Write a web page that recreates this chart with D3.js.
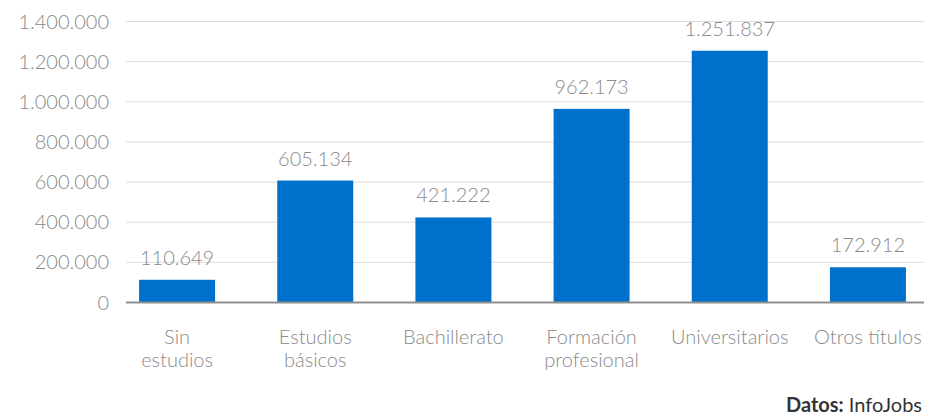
<!DOCTYPE html>
<html><head><meta charset="utf-8">
<script src="https://cdn.jsdelivr.net/npm/d3@7"></script>
<style>
body{margin:0;background:#fff;}
svg{display:block;font-family:Lato,"Open Sans",sans-serif;}
.lt{font-weight:300;}
</style></head><body>
<svg id="c" width="932" height="417"></svg>
<script>
const categories = ["Sin estudios","Estudios básicos","Bachillerato","Formación profesional","Universitarios","Otros títulos"];
const labelLines = [["Sin","estudios"],["Estudios","básicos"],["Bachillerato"],["Formación","profesional"],["Universitarios"],["Otros títulos"]];
const values = [110649, 605134, 421222, 962173, 1251837, 172912];
const yTicks = [0, 200000, 400000, 600000, 800000, 1000000, 1200000, 1400000];
const source = {bold:"Datos:", text:" InfoJobs"};

const svg = d3.select("#c");
const mLeft = 126, mRight = 924, mTop = 21, mBottom = 302;
const loc = d3.formatLocale({decimal:",", thousands:".", grouping:[3], currency:["","€"]});
const fmt = loc.format(",");

const y = d3.scaleLinear().domain([0, 1400000]).range([mBottom, mTop]);
const x = d3.scaleBand().domain(categories).range([108, 937]).paddingInner(0.45).paddingOuter(0.225);

// gridlines
const grid = svg.append("g").attr("transform",`translate(${mLeft},0)`)
  .call(d3.axisLeft(y).tickValues(yTicks).tickSize(-(mRight-mLeft)).tickFormat(""));
grid.select(".domain").remove();
grid.selectAll("line").attr("stroke","#dcdcdc").attr("stroke-width",1);

// y axis labels
const ya = svg.append("g").attr("transform",`translate(${mLeft},0)`)
  .call(d3.axisLeft(y).tickValues(yTicks).tickSize(0).tickPadding(17).tickFormat(fmt));
ya.select(".domain").remove();
ya.attr("font-family",null).attr("font-size",null);
ya.selectAll("text").attr("class","lt").attr("fill","#8a8a8a").style("font-size","20px").attr("dy","0.35em");

// bars
svg.append("g").selectAll("rect").data(values).join("rect")
  .attr("x",(d,i)=>x(categories[i]))
  .attr("width",x.bandwidth())
  .attr("y",d=>y(d))
  .attr("height",d=>mBottom-y(d))
  .attr("fill","#0070cd");

// baseline
svg.append("line").attr("x1",mLeft).attr("x2",mRight).attr("y1",mBottom+0.5).attr("y2",mBottom+0.5)
  .attr("stroke","#8f8f8f").attr("stroke-width",2);

// value labels
svg.append("g").selectAll("text").data(values).join("text")
  .attr("class","lt")
  .attr("x",(d,i)=>x(categories[i])+x.bandwidth()/2)
  .attr("y",d=>y(d)-15)
  .attr("text-anchor","middle").attr("fill","#8a8a8a").style("font-size","20px")
  .text(d=>fmt(d));

// category labels
const cl = svg.append("g").selectAll("text").data(labelLines).join("text")
  .attr("class","lt")
  .attr("x",(d,i)=>x(categories[i])+x.bandwidth()/2)
  .attr("y",344)
  .attr("text-anchor","middle").attr("fill","#8a8a8a").style("font-size","20px");
cl.selectAll("tspan").data(d=>d).join("tspan")
  .attr("x",function(){return this.parentNode.getAttribute("x");})
  .attr("dy",(d,i)=>i===0?0:23)
  .text(d=>d);

// source
const s = svg.append("text").attr("x",922).attr("y",412).attr("text-anchor","end")
  .style("font-size","20px").attr("fill","#333");
s.append("tspan").attr("font-weight","bold").text(source.bold);
s.append("tspan").text(source.text);
</script>
</body></html>
